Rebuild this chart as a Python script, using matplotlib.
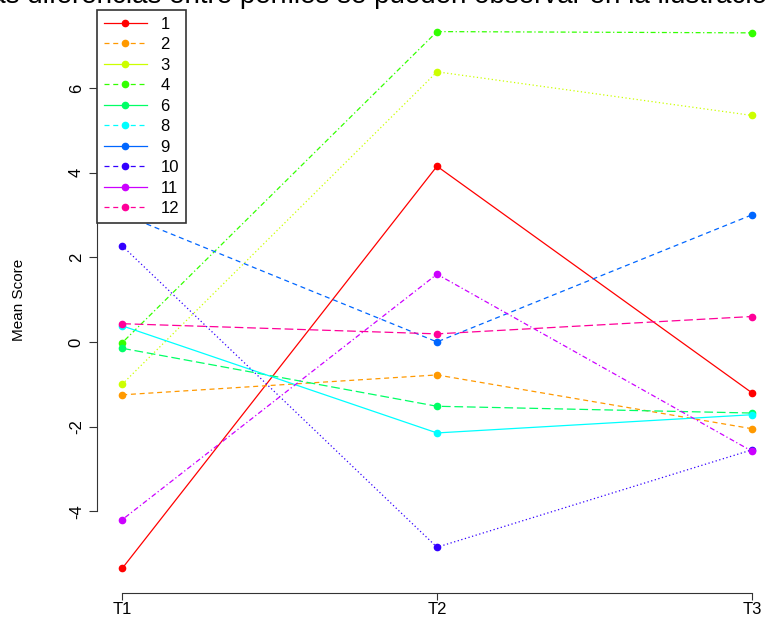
import matplotlib
matplotlib.use("Agg")
import matplotlib.pyplot as plt

plt.rcParams["font.family"] = ["Liberation Sans", "DejaVu Sans"]

times = ["T1", "T2", "T3"]
groups = ["1", "2", "3", "4", "6", "8", "9", "10", "11", "12"]
scores = {
    "1": [-5.35, 4.15, -1.2],
    "2": [-1.25, -0.78, -2.05],
    "3": [-1.0, 6.38, 5.35],
    "4": [-0.02, 7.33, 7.3],
    "6": [-0.15, -1.52, -1.68],
    "8": [0.38, -2.15, -1.72],
    "9": [3.02, 0.0, 3.0],
    "10": [2.27, -4.85, -2.55],
    "11": [-4.2, 1.6, -2.58],
    "12": [0.43, 0.19, 0.6],
}
colors = ["#FF0000", "#FF9900", "#CCFF00", "#33FF00", "#00FF66",
          "#00FFFF", "#0066FF", "#3300FF", "#CC00FF", "#FF0099"]
styles = ["-", (0, (4, 3)), (0, (1, 2)), (0, (1, 2, 4, 2)), (0, (7, 3))]

W, H = 766, 623
fig = plt.figure(figsize=(W / 100, H / 100), dpi=100)
ax = fig.add_axes([97 / W, 1 - 590 / H, (777 - 97) / W, (590 - 10) / H])
x = [1, 2, 3]
for i, g in enumerate(groups):
    ax.plot(x, scores[g], color=colors[i], ls=styles[i % 5], lw=0.9,
            marker="o", ms=4.5, clip_on=False)

ax.set_xlim(0.92, 3.08)
ax.set_ylim(-5.86, 7.84)
for s in ["top", "right"]:
    ax.spines[s].set_visible(False)
ax.spines["bottom"].set_bounds(1, 3)
ax.spines["bottom"].set_position(("outward", 2))
ax.spines["left"].set_bounds(-4, 6)
for s in ["bottom", "left"]:
    ax.spines[s].set_color("#333333")
ax.set_xticks(x)
ax.set_xticklabels(times, fontsize=12)
ax.set_yticks([-4, -2, 0, 2, 4, 6])
ax.set_yticklabels(["-4", "-2", "0", "2", "4", "6"], rotation=90, va="center", fontsize=12)
ax.tick_params(axis="x", length=5, pad=2, color="#333333")
ax.tick_params(axis="y", length=6, color="#333333")
ax.set_ylabel("Mean Score", fontsize=11)
ax.yaxis.set_label_coords(-0.105, 0.5)

handles = []
for i, g in enumerate(groups):
    h, = ax.plot([], [], color=colors[i], ls="-" if i % 2 == 0 else (0, (4, 3)),
                 marker="o", ms=4.5, lw=0.9, label=g)
    handles.append(h)
leg = ax.legend(handles=handles, loc="upper left", bbox_to_anchor=(0, 1), borderaxespad=0,
                fontsize=12, fancybox=False, framealpha=1, labelspacing=0.33,
                handlelength=2.6, edgecolor="#333333")
leg.get_frame().set_linewidth(1.2)

fig.text(0.5, 1.006, "las diferencias entre perfiles se pueden observar en la ilustración",
         ha="center", va="center", fontsize=20)

fig.savefig("out.png", dpi=100)
